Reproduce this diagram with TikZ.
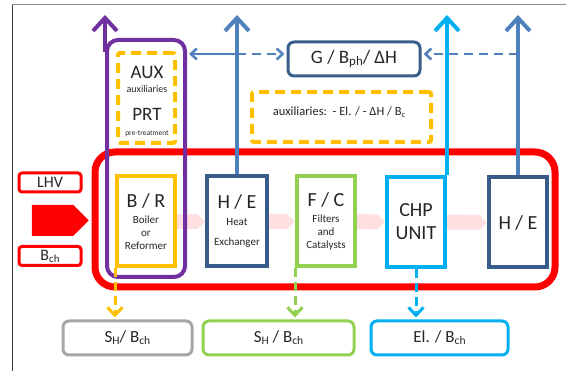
\documentclass[tikz,border=0pt]{standalone}
\usepackage{fontspec}
\setmainfont{Carlito}
\usepackage{tikz}
\usetikzlibrary{arrows.meta, positioning, shapes.symbols, backgrounds}
\definecolor{plantred}{RGB}{255, 0, 0}
\definecolor{auxpurple}{RGB}{112, 48, 160}
\definecolor{auxyellow}{RGB}{255, 192, 0}
\definecolor{unitblue}{RGB}{56, 93, 138}
\definecolor{heatblue}{RGB}{79, 129, 189}
\definecolor{fcgreen}{RGB}{146, 208, 80}
\definecolor{chpcyan}{RGB}{0, 176, 240}
\definecolor{outgray}{RGB}{166, 166, 166}
\newcommand{\lowsub}[1]{\raisebox{-0.12em}{\scalebox{0.68}{#1}}}

\begin{document}
\begin{tikzpicture}[
  x=1pt, y=-1pt,
  every node/.append style={text=black!85},
  unit/.style={draw, fill=white, line width=4pt, minimum width=58pt, minimum height=90pt, inner sep=0pt, align=center, font=\fontsize{11}{13}\selectfont},
  dashbox/.style={draw=auxyellow, line width=4pt, dash pattern=on 10pt off 6pt, rounded corners=2pt, inner sep=0pt},
  outbox/.style={draw, line width=3pt, rounded corners=6pt, minimum height=34pt, inner sep=0pt, font=\fontsize{17}{20}\selectfont},
  sidebox/.style={draw=plantred, line width=3pt, rounded corners=3pt, minimum width=62pt, minimum height=19pt, inner sep=0pt, font=\fontsize{16}{18}\selectfont},
  flow/.style={line width=15pt, red!12, -{Triangle[width=15pt, length=7.5pt]}},
  uparrow/.style={line width=4pt, -{Straight Barb[width=24pt, length=13pt]}},
  linkarrow/.style={line width=2.5pt, heatblue},
  downarrow/.style={line width=3pt, dash pattern=on 9pt off 5pt, shorten >=2pt, -{Straight Barb[width=15pt, length=8pt]}}
]
  \useasboundingbox (0,0) rectangle (566,371);
  % page frame
  \draw[black!45, line width=1pt] (12,5) -- (566,5);
  \draw[black!75, line width=1pt] (12,5) -- (12,371);

  % plant boundary
  \node[draw=plantred, line width=7pt, rounded corners=20pt, minimum width=460pt, minimum height=135pt] (plant) at (325,219.5) {};

  % fuel input
  \node[sidebox] (lhv) at (50,182.5) {LHV};
  \node[sidebox] (bch) at (50,256) {B\lowsub{ch}};
  \node[signal, signal to=east, fill=plantred, minimum width=57pt, minimum height=31pt, inner sep=0pt] (feed) at (52.5,220.5) {};

  % auxiliaries and pre-treatment
  \node[draw=auxpurple, line width=4pt, rounded corners=11pt, minimum width=78pt, minimum height=237pt] (pur) at (146,158.5) {};
  \node[dashbox, minimum width=57pt, minimum height=90pt] (aux) at (146.5,98) {};
  \node[align=center, inner sep=0pt, font=\fontsize{10}{14}\selectfont] (auxtxt) at (147,102) {{\fontsize{19}{22}\selectfont AUX}\\[-0.5pt]auxiliaries\\[14.5pt]{\fontsize{19}{22}\selectfont PRT}\\[1pt]{\fontsize{7.5}{9}\selectfont pre-treatment}};

  % process units
  \node[unit, draw=auxyellow] (br) at (146,221.5) {{\fontsize{20}{24}\selectfont B / R}\\[3pt]Boiler\\or\\Reformer};
  \node[unit, draw=unitblue, minimum width=60pt] (he1) at (237,221.5) {{\fontsize{20}{24}\selectfont H / E}\\[4pt]Heat\\[7pt]Exchanger};
  \node[unit, draw=fcgreen] (fc) at (326,221.5) {{\fontsize{20}{24}\selectfont F / C}\\[3pt]Filters\\and\\Catalysts};
  \node[unit, draw=chpcyan, font=\fontsize{20}{23}\selectfont] (chp) at (416,222) {CHP\\UNIT};
  \node[unit, draw=unitblue, font=\fontsize{20}{24}\selectfont] (he2) at (518,222.5) {H / E};

  \begin{pgfonlayer}{background}
    \draw[flow] (br.east) -- (he1.west);
    \draw[flow] (he1.east) -- (fc.west);
    \draw[flow] (fc.east) -- (chp.west);
    \draw[flow] (chp.east) -- (he2.west);
  \end{pgfonlayer}

  % heat balance
  \node[draw=unitblue, line width=3pt, rounded corners=6pt, minimum width=132pt, minimum height=34pt, font=\fontsize{19}{22}\selectfont] (gbox) at (354,59) {G / B\lowsub{ph}/ ΔH};
  \node[dashbox, minimum width=179pt, minimum height=50pt] (auxl) at (341.5,117) {};
  \node[font=\fontsize{12.5}{15}\selectfont] (auxltxt) at (339,112) {auxiliaries:\ \ - El. / - ΔH / B\lowsub{c}};

  % outputs
  \node[outbox, draw=outgray, minimum width=129pt] (sh1) at (127.5,338) {S\lowsub{H}/ B\lowsub{ch}};
  \node[outbox, draw=fcgreen, minimum width=151pt] (sh2) at (278.5,338) {S\lowsub{H} / B\lowsub{ch}};
  \node[outbox, draw=chpcyan, minimum width=137pt] (el) at (439.5,338) {El. / B\lowsub{ch}};

  % connectors
  \coordinate (top) at (0,15);
  \coordinate (link) at (0,54);
  \draw[uparrow, auxpurple] ([yshift=-14pt]pur.north west) -- (pur.north west |- top);
  \draw[uparrow, heatblue] (he1.north) -- (he1.north |- top);
  \draw[uparrow, chpcyan] (chp.north east) -- (chp.north east |- top);
  \draw[uparrow, heatblue] (he2.north) -- (he2.north |- top);

  \draw[linkarrow, {Straight Barb[width=11pt, length=6pt]}-, shorten <=2pt] (pur.east |- link) -- (he1.north |- link);
  \draw[linkarrow, dash pattern=on 9pt off 6pt, -{Straight Barb[width=11pt, length=6pt]}, shorten >=2pt] (he1.north |- link) -- (gbox.west |- link);
  \draw[linkarrow, dash pattern=on 9pt off 6pt, -{Straight Barb[width=11pt, length=6pt]}, shorten >=2pt] (he2.north |- link) -- (gbox.east |- link);

  \draw[downarrow, auxyellow] (br.south west) -- (br.south west |- sh1.north);
  \draw[downarrow, fcgreen] (fc.south west) -- (fc.south west |- sh2.north);
  \draw[downarrow, chpcyan] (chp.south) -- (chp.south |- el.north);
\end{tikzpicture}
\end{document}
